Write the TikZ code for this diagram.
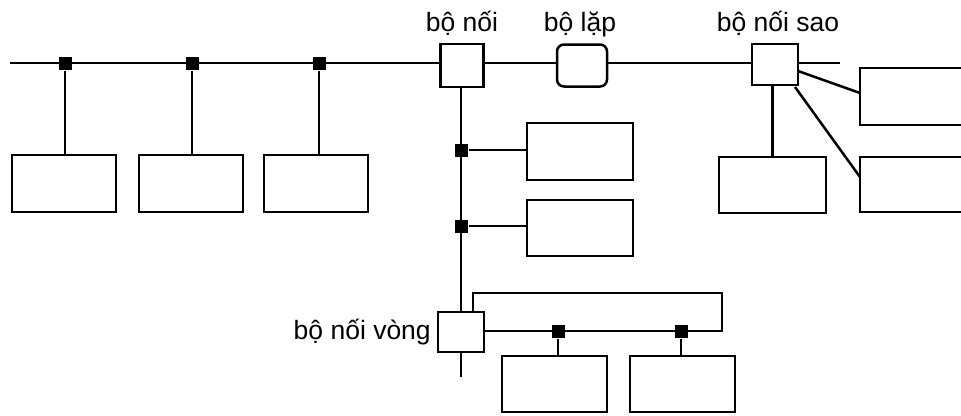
\documentclass[tikz,border=0pt]{standalone}
\usepackage{fontspec}
\setmainfont{Liberation Sans}
\begin{document}
\begin{tikzpicture}[x=1pt,y=-1pt,line width=2.5pt,
  box/.style={draw,rectangle,inner sep=0pt,fill=white},
  jn/.style={fill=black,rectangle,inner sep=0pt,minimum size=13pt},
  lbl/.style={font=\fontsize{26.5}{30}\selectfont,inner sep=0pt}]
\clip (0,0) rectangle (961,415);
\fill[white] (0,0) rectangle (961,415);
% main bus
\coordinate (busL) at (10,63);
\coordinate (busR) at (840,63);
\draw (busL) -- (busR);
% left stations
\foreach \i/\x/\c in {1/65/64,2/192/191,3/319/316}{
  \node[box,minimum width=104pt,minimum height=57pt] (s\i) at (\c,183.5) {};
  \node[jn] (j\i) at (\x,63) {};
  \draw (j\i) -- (s\i.north -| j\i);
}
% connectors on bus
\node[box,minimum width=43pt,minimum height=43pt] (con) at (462,65.5) {};
\node[box,rounded corners=7pt,minimum width=50pt,minimum height=42pt] (rep) at (582,65.5) {};
\node[box,minimum width=46pt,minimum height=41pt] (star) at (775,64.5) {};
\node[lbl,anchor=base] at (462,31) {bộ nối};
\node[lbl,anchor=base] at (580,31) {bộ lặp};
\node[lbl,anchor=base] at (778,31) {bộ nối sao};
% trunk
\node[box,minimum width=46pt,minimum height=40pt] (ring) at (461,332) {};
\node[lbl,anchor=east] at (432,332) {bộ nối vòng};
\coordinate (tb) at (461,377);
\draw (con.south -| ring) -- (ring.north);
\draw (ring.south) -- (tb);
% middle stations
\node[box,minimum width=106pt,minimum height=57pt] (m1) at (580,151.5) {};
\node[box,minimum width=106pt,minimum height=56pt] (m2) at (580,228) {};
\node[jn] (k1) at (461,150) {};
\node[jn] (k2) at (461,226) {};
\draw (k1) -- (k1 -| m1.west);
\draw (k2) -- (k2 -| m2.west);
% ring
\coordinate (r1) at (473,293);
\coordinate (r2) at (722,293);
\coordinate (r3) at (722,331);
\draw (ring.north -| r1) -- (r1) -- (r2) -- (r3) -- (ring.east |- r3);
\node[jn] (q1) at (558,331) {};
\node[jn] (q2) at (681,331) {};
\node[box,minimum width=105pt,minimum height=56pt] (b1) at (554.5,384) {};
\node[box,minimum width=105pt,minimum height=56pt] (b2) at (682.5,384) {};
\draw (q1) -- (b1.north -| q1);
\draw (q2) -- (b2.north -| q2);
% star stations
\node[box,minimum width=107pt,minimum height=56pt] (t1) at (772.5,185) {};
\node[box,minimum width=120pt,minimum height=57pt] (t2) at (920,96.5) {};
\node[box,minimum width=120pt,minimum height=55pt] (t3) at (920,184.5) {};
\coordinate (d1) at (798,71);
\coordinate (d2) at (795,87);
\coordinate (e1) at (860,93);
\coordinate (e2) at (860,177);
\draw (star.south -| t1) -- (t1.north);
\draw (d1) -- (e1);
\draw (d2) -- (e2);
\end{tikzpicture}
\end{document}
